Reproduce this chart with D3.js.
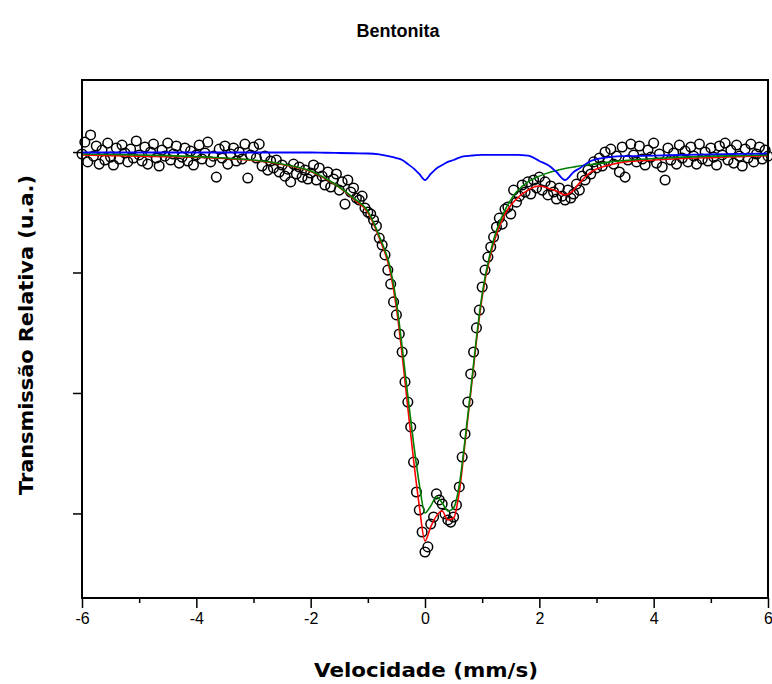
<!DOCTYPE html>
<html>
<head>
<meta charset="utf-8">
<script src="https://cdn.jsdelivr.net/npm/d3@7"></script>
<style>
    body { margin: 0; background: #fff; }
    svg { display: block; }
</style>
</head>
<body>
<div id="chart"></div>
<script>
// measured spectrum: velocity (mm/s) and relative transmission (%)
var velocity = [
    -6.00, -5.95, -5.90, -5.85, -5.80, -5.75, -5.70, -5.65, -5.60, -5.55,
    -5.50, -5.45, -5.40, -5.35, -5.30, -5.25, -5.20, -5.15, -5.10, -5.05,
    -5.00, -4.95, -4.90, -4.85, -4.80, -4.75, -4.70, -4.65, -4.60, -4.55,
    -4.50, -4.45, -4.40, -4.35, -4.30, -4.25, -4.20, -4.15, -4.10, -4.05,
    -4.00, -3.95, -3.90, -3.85, -3.80, -3.75, -3.70, -3.65, -3.60, -3.55,
    -3.50, -3.45, -3.40, -3.35, -3.30, -3.25, -3.20, -3.15, -3.10, -3.05,
    -3.00, -2.95, -2.90, -2.85, -2.80, -2.75, -2.70, -2.65, -2.60, -2.55,
    -2.50, -2.45, -2.40, -2.35, -2.30, -2.25, -2.20, -2.15, -2.10, -2.05,
    -2.00, -1.95, -1.90, -1.85, -1.80, -1.75, -1.70, -1.65, -1.60, -1.55,
    -1.50, -1.45, -1.40, -1.35, -1.30, -1.25, -1.20, -1.15, -1.10, -1.05,
    -1.00, -0.95, -0.90, -0.85, -0.80, -0.75, -0.70, -0.65, -0.60, -0.55,
    -0.50, -0.45, -0.40, -0.35, -0.30, -0.25, -0.20, -0.15, -0.10, -0.05,
    0.00, 0.05, 0.10, 0.15, 0.20, 0.25, 0.30, 0.35, 0.40, 0.45,
    0.50, 0.55, 0.60, 0.65, 0.70, 0.75, 0.80, 0.85, 0.90, 0.95,
    1.00, 1.05, 1.10, 1.15, 1.20, 1.25, 1.30, 1.35, 1.40, 1.45,
    1.50, 1.55, 1.60, 1.65, 1.70, 1.75, 1.80, 1.85, 1.90, 1.95,
    2.00, 2.05, 2.10, 2.15, 2.20, 2.25, 2.30, 2.35, 2.40, 2.45,
    2.50, 2.55, 2.60, 2.65, 2.70, 2.75, 2.80, 2.85, 2.90, 2.95,
    3.00, 3.05, 3.10, 3.15, 3.20, 3.25, 3.30, 3.35, 3.40, 3.45,
    3.50, 3.55, 3.60, 3.65, 3.70, 3.75, 3.80, 3.85, 3.90, 3.95,
    4.00, 4.05, 4.10, 4.15, 4.20, 4.25, 4.30, 4.35, 4.40, 4.45,
    4.50, 4.55, 4.60, 4.65, 4.70, 4.75, 4.80, 4.85, 4.90, 4.95,
    5.00, 5.05, 5.10, 5.15, 5.20, 5.25, 5.30, 5.35, 5.40, 5.45,
    5.50, 5.55, 5.60, 5.65, 5.70, 5.75, 5.80, 5.85, 5.90, 5.95,
    6.00
];
var transmission = [
    99.92, 100.41, 99.59, 100.71, 99.83, 100.25, 99.50, 100.08, 99.67, 100.37,
    99.79, 99.46, 100.17, 99.71, 100.29, 99.96, 99.59, 100.12, 99.75, 100.46,
    99.88, 99.63, 100.21, 99.50, 100.00, 100.33, 99.75, 99.42, 100.08, 99.83,
    100.37, 99.67, 99.92, 100.25, 99.54, 99.79, 100.17, 99.63, 100.04, 99.46,
    99.88, 100.29, 99.71, 99.96, 100.41, 99.59, 99.83, 98.96, 100.12, 99.75,
    100.25, 99.50, 99.92, 100.17, 99.63, 100.00, 99.71, 100.33, 98.92, 99.88,
    100.21, 99.75, 100.33, 99.42, 99.83, 99.25, 99.63, 99.34, 99.67, 99.17,
    99.46, 99.00, 99.29, 98.76, 99.50, 99.09, 99.38, 98.96, 99.25, 98.88,
    99.13, 99.46, 98.84, 99.34, 99.00, 98.63, 99.17, 98.55, 98.88, 99.09,
    98.42, 98.76, 97.84, 98.84, 98.34, 98.51, 98.09, 98.01, 98.17, 97.68,
    97.51, 97.43, 97.18, 96.93, 96.43, 96.14, 95.73, 95.10, 94.52, 93.78,
    93.24, 92.45, 91.70, 90.46, 89.62, 88.59, 87.13, 85.89, 85.14, 84.23,
    83.40, 83.61, 84.56, 84.85, 85.81, 85.56, 85.39, 84.98, 84.73, 84.64,
    84.85, 85.35, 86.10, 87.34, 88.30, 89.62, 90.79, 91.70, 92.70, 93.44,
    94.40, 95.10, 95.64, 96.06, 96.47, 96.89, 97.26, 97.01, 97.63, 97.72,
    97.43, 98.42, 97.92, 98.17, 98.63, 98.34, 98.76, 98.26, 98.84, 98.51,
    98.96, 98.42, 98.76, 98.22, 98.59, 98.34, 98.05, 98.51, 98.17, 98.01,
    98.42, 98.09, 98.26, 98.67, 98.42, 99.00, 98.84, 99.25, 99.09, 99.59,
    99.34, 99.75, 99.42, 100.00, 99.63, 100.12, 99.50, 99.83, 99.17, 100.21,
    98.96, 99.67, 100.33, 99.88, 99.59, 100.25, 99.71, 99.46, 100.08, 99.79,
    100.37, 99.54, 99.92, 99.38, 98.84, 100.17, 99.67, 99.96, 99.50, 100.29,
    99.75, 100.04, 99.59, 100.21, 99.83, 99.50, 100.33, 99.71, 100.00, 99.63,
    100.17, 99.79, 99.46, 100.25, 99.88, 100.37, 99.67, 100.08, 99.54, 100.29,
    99.83, 99.42, 100.12, 99.75, 100.33, 99.59, 99.92, 100.21, 99.71, 100.08,
    99.83
];

// fitted curves, sampled on their own velocity grid
var fitVelocity = [
    -6, -5.5, -5, -4.5, -4, -3.5, -3, -2.5, -2, -1.75,
    -1.5, -1.25, -1, -0.8, -0.6, -0.5, -0.4, -0.3, -0.2, -0.1,
    0, 0.1, 0.2, 0.3, 0.4, 0.5, 0.6, 0.7, 0.8, 0.9,
    1, 1.2, 1.4, 1.6, 1.8, 2, 2.2, 2.3, 2.45, 2.6,
    2.7, 2.9, 3.1, 3.3, 3.5, 4, 4.5, 5, 5.5, 6
];
var fitTotal = [
    99.88, 99.85, 99.83, 99.81, 99.79, 99.73, 99.65, 99.48, 99.19, 98.90,
    98.53, 98.05, 97.49, 96.43, 94.94, 93.53, 91.58, 89.38, 87.22, 85.31,
    83.86, 84.44, 84.90, 85.10, 84.73, 84.81, 85.89, 87.93, 90.00, 92.16,
    93.98, 96.22, 97.43, 98.05, 98.42, 98.59, 98.46, 98.38, 98.22, 98.42,
    98.71, 99.17, 99.38, 99.50, 99.59, 99.67, 99.73, 99.77, 99.81, 99.85
];
var fitSiteA = [
    99.92, 99.90, 99.88, 99.85, 99.81, 99.75, 99.67, 99.50, 99.21, 98.92,
    98.55, 98.09, 97.55, 96.51, 95.10, 93.78, 91.91, 89.88, 87.93, 86.22,
    85.02, 85.31, 85.69, 85.44, 85.10, 85.23, 86.18, 88.05, 90.12, 92.28,
    94.11, 96.35, 97.59, 98.34, 98.76, 99.00, 99.17, 99.23, 99.32, 99.38,
    99.42, 99.48, 99.54, 99.61, 99.65, 99.73, 99.79, 99.83, 99.85, 99.88
];
var fitSiteB = [
    99.98, 99.98, 99.98, 99.98, 99.98, 99.98, 99.98, 99.98, 99.98, 99.97,
    99.96, 99.95, 99.94, 99.90, 99.81, 99.75, 99.67, 99.50, 99.32, 99.09,
    98.84, 99.09, 99.32, 99.46, 99.59, 99.67, 99.77, 99.83, 99.85, 99.87,
    99.88, 99.88, 99.88, 99.88, 99.85, 99.63, 99.38, 99.17, 98.84, 99.17,
    99.32, 99.63, 99.75, 99.81, 99.83, 99.85, 99.88, 99.90, 99.92, 99.94
];

var xMajorTicks = [-6, -4, -2, 0, 2, 4, 6];
var xMinorTicks = [-5, -3, -1, 1, 3, 5];
var yTicks = [100, 95, 90, 85];

var titleText = 'Bentonita';
var xLabel = 'Velocidade (mm/s)';
var yLabel = 'Transmissão Relativa (u.a.)';

(function () {
    var width = 772,
        height = 684;
    var box = {left: 82, right: 768, top: 80, bottom: 598};

    var x = d3.scaleLinear()
        .domain([-6, 6])
        .range([box.left, box.right]);

    var y = d3.scaleLinear()
        .domain([81.49, 102.99])
        .range([box.bottom, box.top]);

    var svg = d3.select('#chart').append('svg')
        .attr('width', width)
        .attr('height', height);

    var points = velocity.map(function (v, i) {
        return {v: v, t: transmission[i]};
    });

    // data circles
    svg.append('g')
        .attr('class', 'points')
        .selectAll('circle')
        .data(points)
        .enter().append('circle')
        .attr('cx', function (d) { return x(d.v); })
        .attr('cy', function (d) { return y(d.t); })
        .attr('r', 4.8)
        .attr('fill', 'none')
        .attr('stroke', '#000')
        .attr('stroke-width', 1.5);

    var line = d3.line()
        .x(function (d) { return x(d[0]); })
        .y(function (d) { return y(d[1]); })
        .curve(d3.curveMonotoneX);

    function addCurve(values, color, w) {
        svg.append('path')
            .datum(fitVelocity.map(function (v, i) { return [v, values[i]]; }))
            .attr('fill', 'none')
            .attr('stroke', color)
            .attr('stroke-width', w)
            .attr('d', line);
    }

    addCurve(fitTotal, '#ff0000', 1.6);
    addCurve(fitSiteA, '#008000', 1.6);
    addCurve(fitSiteB, '#0000ff', 1.8);

    // frame
    svg.append('rect')
        .attr('x', box.left)
        .attr('y', box.top)
        .attr('width', box.right - box.left)
        .attr('height', box.bottom - box.top)
        .attr('fill', 'none')
        .attr('stroke', '#000')
        .attr('stroke-width', 2);

    var xAxis = svg.append('g')
        .attr('transform', 'translate(0,' + box.bottom + ')')
        .call(d3.axisBottom(x)
            .tickValues(xMajorTicks)
            .tickSize(10)
            .tickSizeOuter(0)
            .tickPadding(5)
            .tickFormat(function (d) { return String(d); }));

    svg.append('g')
        .attr('transform', 'translate(0,' + box.bottom + ')')
        .call(d3.axisBottom(x)
            .tickValues(xMinorTicks)
            .tickSize(5)
            .tickSizeOuter(0)
            .tickFormat(''))
        .select('.domain').remove();

    svg.append('g')
        .attr('transform', 'translate(' + box.left + ',0)')
        .call(d3.axisLeft(y)
            .tickValues(yTicks)
            .tickSize(9)
            .tickSizeOuter(0)
            .tickFormat(''))
        .select('.domain').remove();

    xAxis.select('.domain').remove();
    svg.selectAll('.tick line')
        .attr('stroke', '#000')
        .attr('stroke-width', 1.5);
    xAxis.selectAll('text')
        .attr('fill', '#000')
        .style('font-family', '"Liberation Sans", Arial, sans-serif')
        .style('font-size', '16px');

    svg.append('text')
        .attr('x', 398)
        .attr('y', 37)
        .attr('text-anchor', 'middle')
        .style('font-family', '"Liberation Sans", Arial, sans-serif')
        .style('font-weight', 'bold')
        .style('font-size', '18px')
        .text(titleText);

    svg.append('text')
        .attr('x', 426)
        .attr('y', 677)
        .attr('text-anchor', 'middle')
        .attr('textLength', 224)
        .attr('lengthAdjust', 'spacingAndGlyphs')
        .style('font-family', '"DejaVu Sans", sans-serif')
        .style('font-weight', 'bold')
        .style('font-size', '19px')
        .text(xLabel);

    svg.append('text')
        .attr('transform', 'translate(33,335) rotate(-90)')
        .attr('text-anchor', 'middle')
        .attr('textLength', 320)
        .attr('lengthAdjust', 'spacingAndGlyphs')
        .style('font-family', '"DejaVu Sans", sans-serif')
        .style('font-weight', 'bold')
        .style('font-size', '19px')
        .text(yLabel);
})();
</script>
</body>
</html>
